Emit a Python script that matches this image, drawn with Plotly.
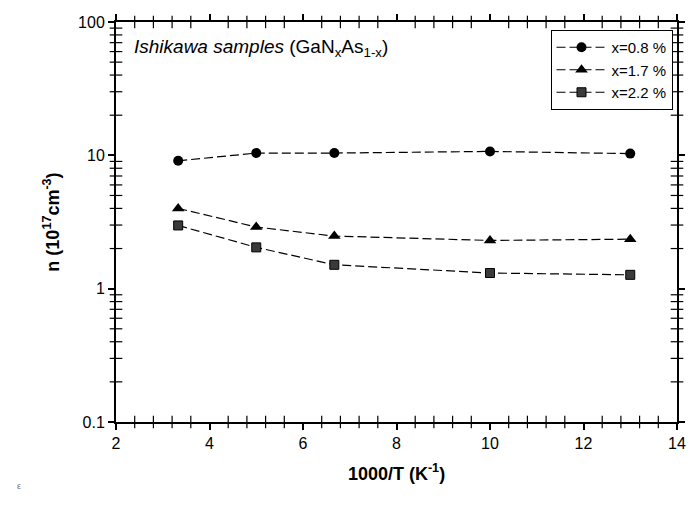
import plotly.graph_objects as go

x_vals = [3.33, 5.0, 6.67, 10.0, 13.0]
n_08 = [9.1, 10.4, 10.4, 10.7, 10.3]
n_17 = [4.0, 2.9, 2.48, 2.3, 2.35]
n_22 = [2.98, 2.04, 1.51, 1.31, 1.27]
names = ["x=0.8 %", "x=1.7 %", "x=2.2 %"]
x_major = [2, 4, 6, 8, 10, 12, 14]
y_major = [0.1, 1, 10, 100]
x_minor = [round(2 + 0.4 * i, 2) for i in range(31) if (i % 5) != 0]
y_minor = [m * 10.0 ** d for d in (-1, 0, 1) for m in range(2, 10)]

X_MIN, X_MAX = 2, 14
Y_MIN, Y_MAX = 0.1, 100

FONT = "Liberation Sans, Arial, sans-serif"

fig = go.Figure()
styles = [
    dict(symbol="circle", size=10, color="black"),
    dict(symbol="triangle-up", size=11, color="black"),
    dict(symbol="square", size=9, color="#3a3a3a", line=dict(color="black", width=1)),
]
for ys, nm, st in zip([n_08, n_17, n_22], names, styles):
    fig.add_trace(go.Scatter(
        x=x_vals, y=ys, name=nm, mode="lines+markers",
        line=dict(color="black", width=1.2, dash="9px,4px"),
        marker=st,
    ))

# minor ticks on all four frame edges (markers centred on the axis line)
tick_marker_v = dict(symbol="line-ns", size=9, line=dict(color="black", width=1.2))
tick_marker_h = dict(symbol="line-ew", size=9, line=dict(color="black", width=1.2))
for yy in (Y_MIN, Y_MAX):
    fig.add_trace(go.Scatter(x=x_minor, y=[yy] * len(x_minor), mode="markers",
                             marker=tick_marker_v, showlegend=False, hoverinfo="skip",
                             cliponaxis=False))
for xx in (X_MIN, X_MAX):
    fig.add_trace(go.Scatter(x=[xx] * len(y_minor), y=y_minor, mode="markers",
                             marker=tick_marker_h, showlegend=False, hoverinfo="skip",
                             cliponaxis=False))

fig.update_xaxes(
    range=[X_MIN, X_MAX], tickmode="array", tickvals=x_major,
    showline=True, linecolor="black", linewidth=2, mirror="allticks",
    ticks="outside", ticklen=6, tickwidth=1.5, tickcolor="black",
    showgrid=False, zeroline=False,
    tickfont=dict(family=FONT, size=16, color="black"),
    title=dict(text="<b>1000/T (K<sup>-1</sup>)</b>", font=dict(family=FONT, size=18, color="black"), standoff=16),
)
fig.update_yaxes(
    type="log", range=[-1, 2], tickmode="array", tickvals=y_major, ticktext=["0.1", "1", "10", "100"],
    showline=True, linecolor="black", linewidth=2, mirror="allticks",
    ticks="outside", ticklen=6, tickwidth=1.5, tickcolor="black",
    showgrid=False, zeroline=False,
    tickfont=dict(family=FONT, size=16, color="black"),
    title=dict(text="<b>n (10<sup>17</sup>cm<sup>-3</sup>)</b>", font=dict(family=FONT, size=18, color="black"), standoff=14),
)

fig.add_annotation(
    xref="paper", yref="paper", x=0.028, y=0.935, xanchor="left", yanchor="middle",
    text="<i>Ishikawa samples</i> (GaN<sub>x</sub>As<sub>1-x</sub>)",
    showarrow=False, font=dict(family=FONT, size=19, color="black"),
)
fig.add_annotation(
    xref="paper", yref="paper", x=-0.18, y=-0.16, xanchor="left", yanchor="middle",
    text="ε", showarrow=False, font=dict(family=FONT, size=9, color="#777"),
)

fig.update_layout(
    width=696, height=509,
    margin=dict(l=116, r=10, t=22, b=87),
    paper_bgcolor="white", plot_bgcolor="white",
    font=dict(family=FONT, color="black"),
    showlegend=True,
    legend=dict(
        x=0.992, y=0.98, xanchor="right", yanchor="top",
        bordercolor="black", borderwidth=1, bgcolor="white",
        font=dict(family=FONT, size=15, color="black"),
        itemwidth=50, tracegroupgap=0,
    ),
)

fig.write_html("out.html")
